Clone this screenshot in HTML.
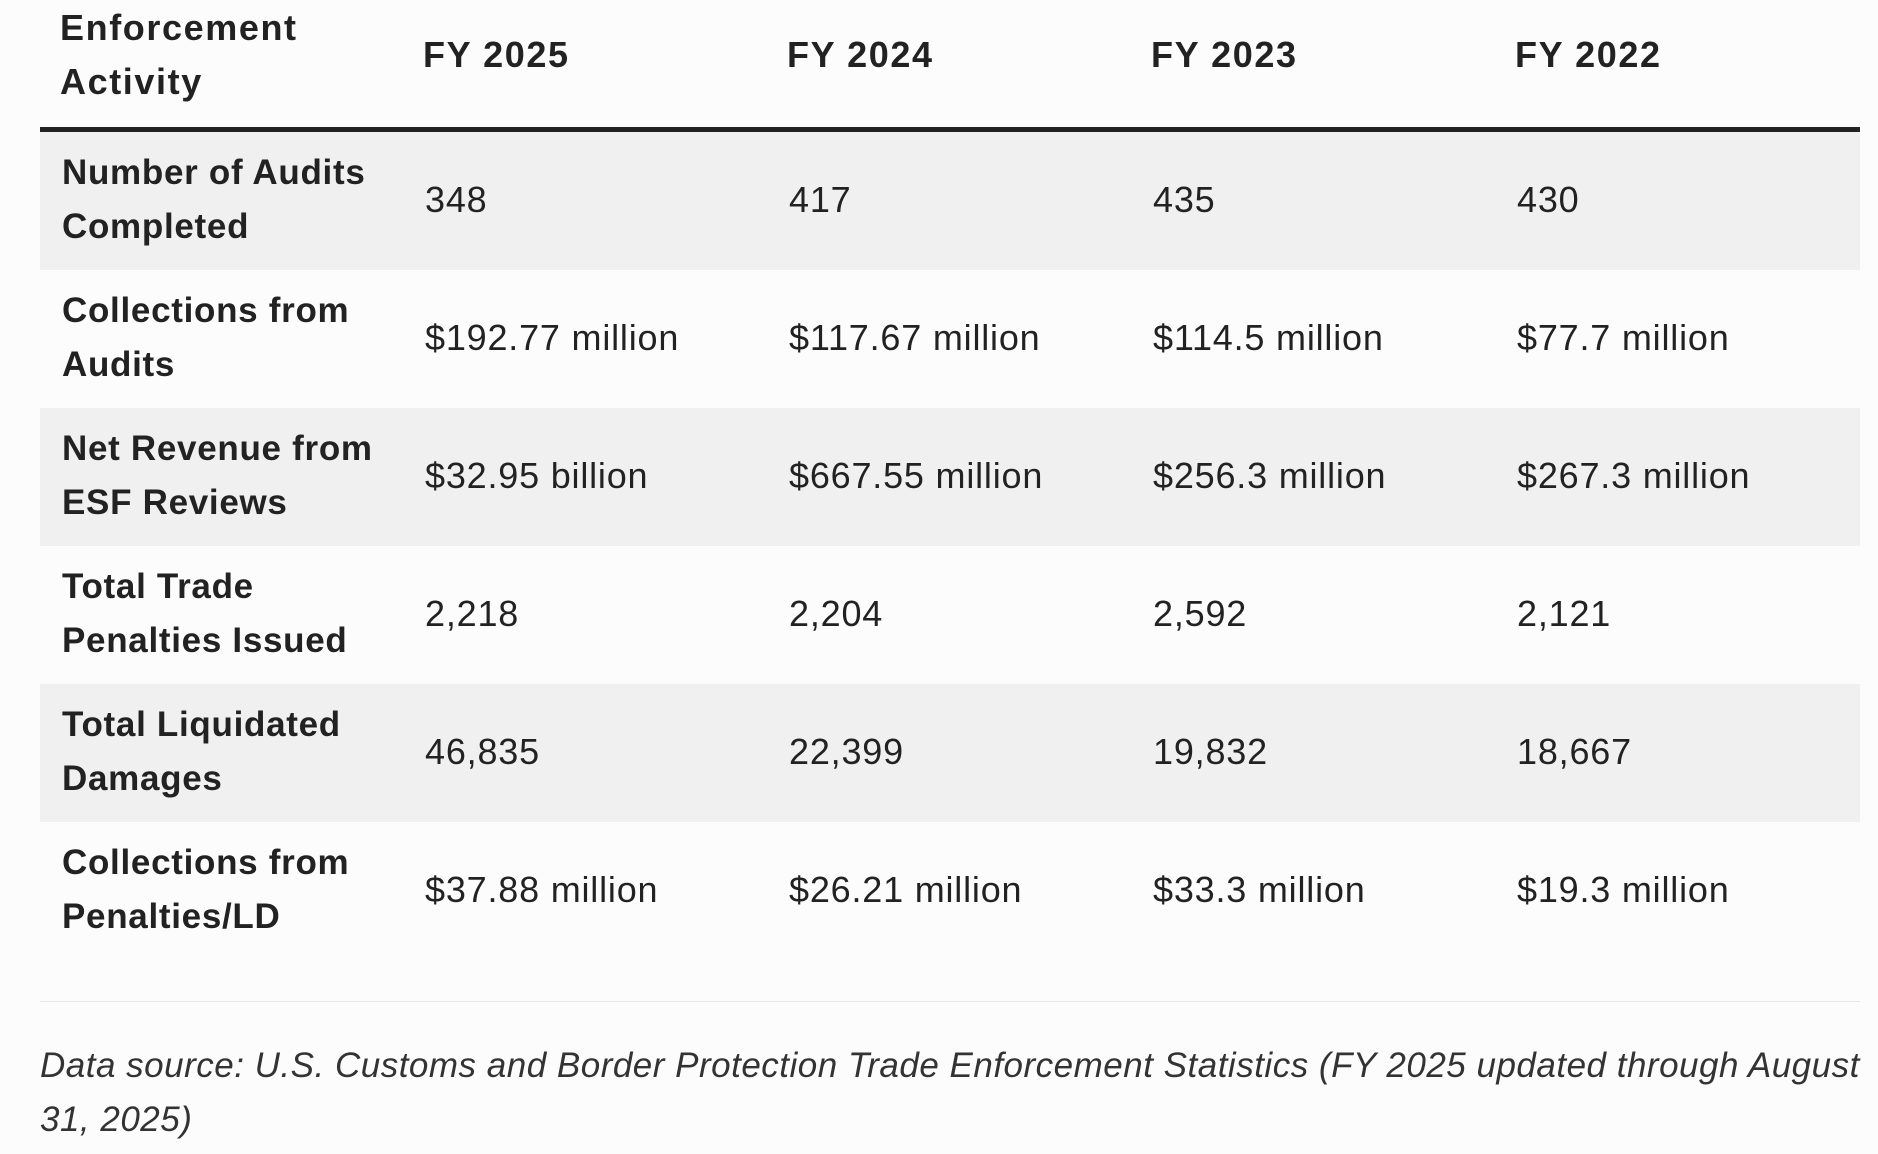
<!DOCTYPE html>
<html><head><meta charset="utf-8"><style>
body{margin:0;width:1878px;height:1154px;background:#fcfcfc;font-family:"Liberation Sans",sans-serif;color:#222;position:relative;overflow:hidden}
.c{position:absolute;font-size:36px;line-height:54px;white-space:nowrap;letter-spacing:0.8px}
.b{font-weight:bold;font-size:35px;letter-spacing:0.7px}
.h{font-weight:bold;font-size:36px;letter-spacing:1.6px}
.row{position:absolute;left:40px;width:1820px;height:138px}
.g{background:#f0f0f0}
</style></head><body>
<div>
<div class="c h" style="left:60px;top:1px">Enforcement<br>Activity</div>
<div class="c h" style="left:423px;top:28px">FY 2025</div>
<div class="c h" style="left:787px;top:28px">FY 2024</div>
<div class="c h" style="left:1151px;top:28px">FY 2023</div>
<div class="c h" style="left:1515px;top:28px">FY 2022</div>
<div style="position:absolute;left:40px;top:127px;width:1820px;height:5px;background:#222"></div>
<div id="rows"></div>
<div style="position:absolute;left:40px;top:1001px;width:1820px;height:1px;background:#e8e8e8"></div>
</div>
<div class="c" style="left:40px;top:1039px;font-style:italic;font-size:35px;letter-spacing:0.5px;line-height:54px;color:#333">Data source: U.S. Customs and Border Protection Trade Enforcement Statistics (FY 2025 updated through August<br>31, 2025)</div>
<script>
const labels=[["Number of Audits","Completed"],["Collections from","Audits"],["Net Revenue from","ESF Reviews"],["Total Trade","Penalties Issued"],["Total Liquidated","Damages"],["Collections from","Penalties/LD"]];
const fy2025=["348","$192.77 million","$32.95 billion","2,218","46,835","$37.88 million"];
const fy2024=["417","$117.67 million","$667.55 million","2,204","22,399","$26.21 million"];
const fy2023=["435","$114.5 million","$256.3 million","2,592","19,832","$33.3 million"];
const fy2022=["430","$77.7 million","$267.3 million","2,121","18,667","$19.3 million"];
const rows=document.getElementById('rows');
const cols=[fy2025,fy2024,fy2023,fy2022];
const xs=[425,789,1153,1517];
labels.forEach((l,i)=>{
  const top=132+i*138;
  const r=document.createElement('div');
  r.className='row'+(i%2==0?' g':'');
  r.style.top=top+'px';
  
  
  rows.appendChild(r);
  const h=document.createElement('div');
  h.className='c b';
  h.style.left='62px';h.style.top=(top+14)+'px';
  h.innerHTML=l[0]+'<br>'+l[1];
  
  
  rows.appendChild(h);
  cols.forEach((c,j)=>{
    const d=document.createElement('div');
    d.className='c';
    d.style.left=xs[j]+'px';d.style.top=(top+41)+'px';
    d.textContent=c[i];
    
    
    rows.appendChild(d);
  });
});
</script>
</body></html>
